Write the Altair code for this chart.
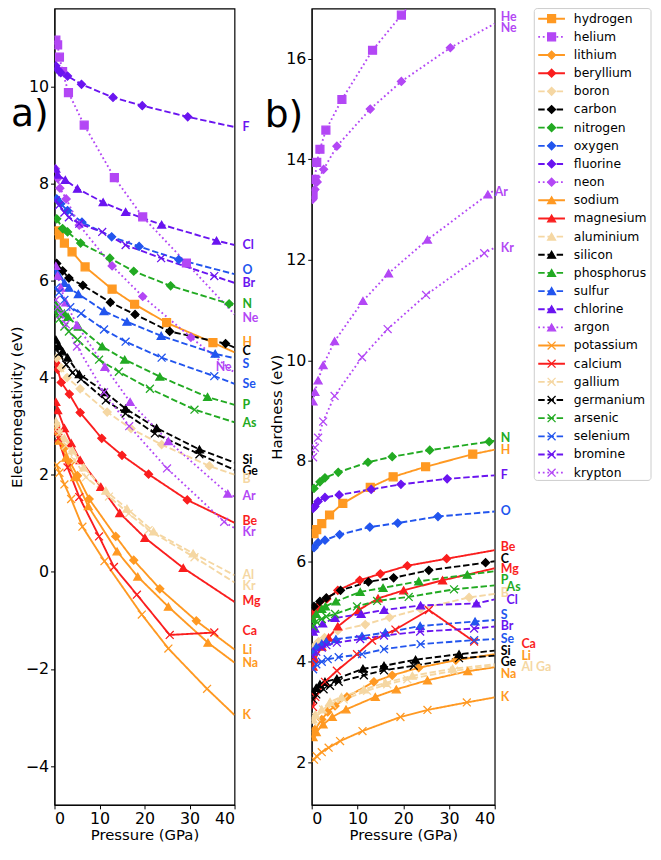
import altair as alt
import pandas as pd

# ---------------- element styles ----------------
ELEMENTS = ["hydrogen", "helium", "lithium", "beryllium", "boron", "carbon", "nitrogen",
            "oxygen", "fluorine", "neon", "sodium", "magnesium", "aluminium", "silicon",
            "phosphorus", "sulfur", "chlorine", "argon", "potassium", "calcium", "gallium",
            "germanium", "arsenic", "selenium", "bromine", "krypton"]

ORANGE = "#ff9922"
PURPLE = "#b347f5"
RED = "#fa1e1e"
WHEAT = "#f5d7a3"
BLACK = "#000000"
GREEN = "#22aa22"
BLUE = "#2255ee"
VIOLET = "#6a14f0"

COLORS = [ORANGE, PURPLE, ORANGE, RED, WHEAT, BLACK, GREEN, BLUE, VIOLET, PURPLE,
          ORANGE, RED, WHEAT, BLACK, GREEN, BLUE, VIOLET, PURPLE,
          ORANGE, RED, WHEAT, BLACK, GREEN, BLUE, VIOLET, PURPLE]
MARKERS = ["square", "square"] + ["diamond"] * 8 + ["triangle"] * 8 + ["x"] * 8
LINESTYLES = ["solid", "dotted", "solid", "solid", "dashed", "dashed", "dashed", "dashed", "dashed", "dotted",
              "solid", "solid", "dashed", "dashed", "dashed", "dashed", "dashed", "dotted",
              "solid", "solid", "dashed", "dashed", "dashed", "dashed", "dashed", "dotted"]

SHAPE_OF = {"square": "square", "diamond": "diamond", "triangle": "triangle-up",
            "x": "M-1,-1L1,1M1,-1L-1,1"}
SIZE_OF = {"square": 64, "diamond": 100, "triangle": 95, "x": 72}
DASH_OF = {"solid": [1, 0], "dashed": [6.5, 2.8], "dotted": [1.8, 2.8]}

# ---------------- data: pressure (GPa), electronegativity (eV), hardness (eV) ----------------
hydrogen_P = [0.5, 1.1, 2.2, 3.9, 6.8, 12.8, 17.8, 24.9, 35.2]
hydrogen_EN = [7.02, 6.94, 6.77, 6.59, 6.28, 5.82, 5.51, 5.13, 4.72]
hydrogen_HD = [6.55, 6.63, 6.75, 6.92, 7.15, 7.47, 7.68, 7.88, 8.13]
hydrogen_END = [4.52, 8.22]

helium_P = [0.3, 0.7, 1.1, 1.8, 3.1, 6.6, 13.3, 19.6, 29.3]
helium_EN = [10.95, 10.85, 10.6, 10.3, 9.87, 9.2, 8.12, 7.31, 6.36]
helium_HD = [13.3, 13.6, 13.94, 14.2, 14.58, 15.19, 16.17, 16.87, 17.95]
helium_END = [5.3, 18.9]

lithium_P = [0.3, 0.7, 2.2, 3.5, 5.1, 7.7, 13.6, 17.6, 23.4, 31.5]
lithium_EN = [3.0, 2.89, 2.55, 2.25, 1.98, 1.5, 0.73, 0.24, -0.35, -1.01]
lithium_HD = [2.55, 2.65, 2.85, 3.0, 3.12, 3.3, 3.6, 3.73, 3.88, 4.03]
lithium_END = [-1.6, 4.15]

beryllium_P = [0.3, 0.7, 1.5, 3.3, 5.7, 10.5, 15.0, 20.9, 29.5]
beryllium_EN = [4.3, 4.17, 3.9, 3.66, 3.28, 2.75, 2.4, 2.01, 1.48]
beryllium_HD = [4.9, 5.0, 5.1, 5.25, 5.42, 5.62, 5.75, 5.91, 6.05]
beryllium_END = [1.01, 6.22]

boron_P = [0.5, 1.5, 2.8, 5.7, 11.7, 17.0, 23.8, 34.4]
boron_EN = [4.4, 4.2, 4.0, 3.77, 3.29, 2.95, 2.62, 2.18]
boron_HD = [4.3, 4.4, 4.48, 4.62, 4.74, 4.88, 5.05, 5.28]
boron_END = [2.0, 5.35]

carbon_P = [0.5, 1.8, 3.2, 6.3, 12.4, 17.9, 25.6, 38.0]
carbon_EN = [6.35, 6.2, 6.05, 5.9, 5.55, 5.3, 4.95, 4.7]
carbon_HD = [5.1, 5.2, 5.27, 5.42, 5.59, 5.67, 5.82, 5.97]
carbon_END = [4.62, 6.0]

nitrogen_P = [0.5, 1.8, 2.9, 5.8, 12.3, 17.6, 25.8, 38.8]
nitrogen_EN = [7.27, 7.07, 7.0, 6.77, 6.46, 6.19, 5.89, 5.52]
nitrogen_HD = [7.45, 7.58, 7.66, 7.77, 7.97, 8.08, 8.21, 8.38]
nitrogen_END = [5.48, 8.4]

oxygen_P = [0.5, 1.4, 2.9, 6.1, 12.7, 18.8, 27.6]
oxygen_EN = [7.68, 7.58, 7.44, 7.2, 6.9, 6.7, 6.43]
oxygen_HD = [6.27, 6.37, 6.42, 6.53, 6.68, 6.76, 6.89]
oxygen_END = [6.13, 6.99]

fluorine_P = [0.3, 0.7, 1.4, 2.9, 6.0, 13.0, 19.5, 29.6]
fluorine_EN = [10.42, 10.34, 10.28, 10.21, 10.04, 9.77, 9.6, 9.37]
fluorine_HD = [7.05, 7.09, 7.19, 7.27, 7.32, 7.43, 7.53, 7.64]
fluorine_END = [9.16, 7.71]

neon_P = [0.2, 0.7, 1.2, 2.6, 5.5, 12.8, 19.6, 30.3]
neon_EN = [8.3, 8.1, 7.9, 7.68, 7.14, 6.3, 5.67, 4.83]
neon_HD = [13.2, 13.4, 13.55, 13.8, 14.26, 15.0, 15.55, 16.22]
neon_END = [4.1, 16.7]

sodium_P = [0.3, 1.0, 2.5, 4.5, 7.5, 13.9, 18.5, 25.3, 34.1]
sodium_EN = [2.9, 2.7, 2.35, 1.95, 1.35, 0.42, -0.1, -0.72, -1.46]
sodium_HD = [2.5, 2.6, 2.75, 2.9, 3.05, 3.3, 3.45, 3.63, 3.81]
sodium_END = [-1.87, 3.89]

magnesium_P = [0.3, 0.7, 2.2, 3.7, 5.7, 10.3, 14.5, 20.1, 28.6]
magnesium_EN = [3.5, 3.33, 2.96, 2.65, 2.3, 1.75, 1.21, 0.7, 0.08]
magnesium_HD = [3.9, 4.05, 4.3, 4.48, 4.7, 5.03, 5.26, 5.42, 5.62]
magnesium_END = [-0.62, 5.86]

aluminium_P = [0.3, 0.8, 2.2, 4.0, 6.5, 11.4, 16.1, 22.0, 30.8]
aluminium_EN = [3.1, 2.95, 2.75, 2.5, 2.15, 1.67, 1.3, 0.83, 0.38]
aluminium_HD = [2.85, 2.95, 3.05, 3.2, 3.3, 3.45, 3.58, 3.72, 3.86]
aluminium_END = [-0.07, 3.95]

silicon_P = [0.3, 1.0, 1.8, 2.9, 5.5, 11.2, 15.8, 22.7, 32.2]
silicon_EN = [4.78, 4.65, 4.54, 4.41, 4.07, 3.7, 3.36, 2.96, 2.52]
silicon_HD = [3.4, 3.48, 3.55, 3.6, 3.66, 3.86, 3.92, 4.04, 4.15]
silicon_END = [2.25, 4.22]

phosphorus_P = [0.3, 1.0, 2.2, 3.0, 5.3, 10.6, 15.6, 23.4, 34.0]
phosphorus_EN = [5.5, 5.42, 5.32, 5.25, 5.05, 4.64, 4.37, 4.02, 3.6]
phosphorus_HD = [4.85, 4.95, 5.05, 5.1, 5.2, 5.39, 5.47, 5.6, 5.73]
phosphorus_END = [3.44, 5.8]

sulfur_P = [0.3, 1.0, 2.2, 3.2, 5.3, 11.0, 16.1, 23.7, 35.7]
sulfur_EN = [6.2, 6.1, 5.95, 5.85, 5.72, 5.37, 5.15, 4.86, 4.49]
sulfur_HD = [4.2, 4.3, 4.36, 4.4, 4.45, 4.51, 4.58, 4.71, 4.8]
sulfur_END = [4.4, 4.83]

chlorine_P = [0.3, 0.7, 2.4, 5.1, 10.8, 15.8, 23.8, 36.0]
chlorine_EN = [8.3, 8.18, 8.07, 7.89, 7.61, 7.41, 7.15, 6.82]
chlorine_HD = [4.6, 4.66, 4.76, 4.87, 4.95, 5.03, 5.12, 5.16]
chlorine_END = [6.73, 5.24]

argon_P = [0.3, 0.7, 1.4, 2.5, 5.0, 11.2, 16.8, 25.3, 38.5]
argon_EN = [6.3, 6.1, 5.85, 5.55, 5.08, 4.22, 3.5, 2.69, 1.61]
argon_HD = [9.18, 9.37, 9.6, 9.9, 10.38, 11.18, 11.73, 12.4, 13.3]
argon_END = [1.55, 13.39]

potassium_P = [0.5, 1.1, 2.2, 3.7, 6.2, 11.1, 19.4, 25.3, 33.9]
potassium_EN = [2.2, 2.04, 1.8, 1.5, 0.93, 0.22, -0.88, -1.58, -2.41]
potassium_HD = [2.05, 2.12, 2.2, 2.29, 2.42, 2.62, 2.9, 3.04, 3.19]
potassium_END = [-2.95, 3.29]

calcium_P = [0.3, 0.8, 2.9, 5.5, 9.9, 13.2, 18.3, 25.6, 35.5]
calcium_EN = [2.9, 2.75, 2.15, 1.54, 0.73, 0.1, -0.47, -1.3, -1.25]
calcium_HD = [3.1, 3.3, 3.6, 3.82, 4.15, 4.42, 4.64, 5.03, 4.4]
calcium_END = None

gallium_P = [0.3, 1.0, 2.5, 4.5, 7.0, 12.1, 16.5, 20.9, 31.1]
gallium_EN = [3.0, 2.85, 2.6, 2.3, 1.95, 1.55, 1.2, 0.86, 0.3]
gallium_HD = [2.8, 2.9, 3.05, 3.15, 3.25, 3.42, 3.55, 3.65, 3.82]
gallium_END = [-0.22, 3.92]

germanium_P = [0.3, 1.0, 2.6, 4.0, 5.9, 11.4, 15.8, 22.3, 32.2]
germanium_EN = [4.65, 4.5, 4.27, 4.1, 3.97, 3.53, 3.26, 2.85, 2.42]
germanium_HD = [3.25, 3.35, 3.45, 3.52, 3.6, 3.73, 3.83, 3.92, 4.07]
germanium_END = [2.1, 4.12]

arsenic_P = [0.3, 1.0, 2.2, 3.2, 5.1, 9.9, 14.3, 21.2, 31.1]
arsenic_EN = [5.35, 5.2, 5.05, 4.95, 4.78, 4.37, 4.12, 3.77, 3.34]
arsenic_HD = [4.7, 4.8, 4.85, 4.9, 4.95, 5.1, 5.21, 5.29, 5.44]
arsenic_END = [3.08, 5.52]

selenium_P = [0.3, 1.0, 2.2, 3.5, 5.9, 11.0, 15.8, 23.8, 35.5]
selenium_EN = [5.85, 5.75, 5.6, 5.45, 5.32, 4.99, 4.74, 4.41, 4.03]
selenium_HD = [3.85, 3.95, 4.0, 4.05, 4.09, 4.15, 4.25, 4.35, 4.43]
selenium_END = [3.87, 4.45]

bromine_P = [0.3, 1.0, 2.2, 3.2, 5.5, 10.6, 15.8, 23.7, 35.5]
bromine_EN = [7.65, 7.55, 7.4, 7.3, 7.17, 7.0, 6.73, 6.46, 6.09]
bromine_HD = [4.1, 4.2, 4.28, 4.33, 4.38, 4.45, 4.52, 4.6, 4.66]
bromine_END = [5.95, 4.7]

krypton_P = [0.3, 0.7, 1.4, 2.5, 5.0, 11.0, 16.6, 25.0, 37.7]
krypton_EN = [5.6, 5.45, 5.3, 5.1, 4.64, 3.7, 3.0, 2.13, 1.03]
krypton_HD = [8.07, 8.26, 8.46, 8.78, 9.29, 10.06, 10.62, 11.3, 12.13]
krypton_END = [0.9, 12.24]

# ---------------- end-of-line labels ----------------
LEFT_LABEL_TEXT = ["F", "Cl", "O", "Br", "N", "Ne", "H", "C", "S", "Ne", "Se", "P", "As", "Si", "Ge",
                   "B", "Ar", "Be", "Kr", "Al", "Kr", "Mg", "Ca", "Li", "Na", "K"]
LEFT_LABEL_Y = [9.16, 6.73, 6.21, 5.94, 5.52, 5.22, 4.74, 4.54, 4.27, 4.22, 3.87, 3.43, 3.06, 2.31, 2.08,
                1.91, 1.57, 1.05, 0.81, -0.07, -0.3, -0.61, -1.21, -1.61, -1.88, -2.94]
LEFT_LABEL_OWNER = ["fluorine", "chlorine", "oxygen", "bromine", "nitrogen", "helium", "hydrogen", "carbon",
                    "sulfur", "neon", "selenium", "phosphorus", "arsenic", "silicon", "germanium", "boron",
                    "argon", "beryllium", "krypton", "aluminium", "gallium", "magnesium", "calcium",
                    "lithium", "sodium", "potassium"]
LEFT_LABEL_SLOT = ["out"] * 9 + ["in"] + ["out"] * 16

RIGHT_LABEL_TEXT = ["He", "Ne", "Ar", "Kr", "N", "H", "F", "O", "Be", "C", "Mg", "P", "As", "B", "Cl",
                    "S", "Br", "Se", "Ca", "Si", "Li", "Ge", "Al Ga", "Na", "K"]
RIGHT_LABEL_Y = [16.84, 16.62, 13.35, 12.24, 8.46, 8.21, 7.71, 7.0, 6.29, 6.05, 5.84, 5.62, 5.49, 5.36,
                 5.23, 4.92, 4.71, 4.45, 4.35, 4.22, 4.12, 4.0, 3.89, 3.76, 3.29]
RIGHT_LABEL_OWNER = ["helium", "neon", "argon", "krypton", "nitrogen", "hydrogen", "fluorine", "oxygen",
                     "beryllium", "carbon", "magnesium", "phosphorus", "arsenic", "boron", "chlorine",
                     "sulfur", "bromine", "selenium", "calcium", "silicon", "lithium", "germanium",
                     "aluminium", "sodium", "potassium"]
RIGHT_LABEL_SLOT = ["out", "out", "edge", "out", "out", "out", "out", "out", "out", "out", "out", "out",
                    "mid", "out", "mid", "out", "out", "out", "far", "out", "far", "out", "far", "out", "out"]

# ---------------- build tables ----------------
rows = []
for name in ELEMENTS:
    P = globals()[name + "_P"]
    EN = globals()[name + "_EN"]
    HD = globals()[name + "_HD"]
    END = globals()[name + "_END"]
    for p, e, h in zip(P, EN, HD):
        rows.append({"element": name, "P": p, "EN": e, "HD": h, "marker": True})
    if END is not None:
        rows.append({"element": name, "P": 40.0, "EN": END[0], "HD": END[1], "marker": False})
df = pd.DataFrame(rows)

left_lab = pd.DataFrame({"text": LEFT_LABEL_TEXT, "EN": LEFT_LABEL_Y, "owner": LEFT_LABEL_OWNER,
                         "slot": LEFT_LABEL_SLOT})
right_lab = pd.DataFrame({"text": RIGHT_LABEL_TEXT, "HD": RIGHT_LABEL_Y, "owner": RIGHT_LABEL_OWNER,
                          "slot": RIGHT_LABEL_SLOT})
leg_df = pd.DataFrame({"element": ELEMENTS, "row": list(range(len(ELEMENTS)))})

color_scale = alt.Scale(domain=ELEMENTS, range=COLORS)
shape_scale = alt.Scale(domain=ELEMENTS, range=[SHAPE_OF[m] for m in MARKERS])
size_scale = alt.Scale(domain=ELEMENTS, range=[SIZE_OF[m] for m in MARKERS])
dash_scale = alt.Scale(domain=ELEMENTS, range=[DASH_OF[s] for s in LINESTYLES])

W_L, W_R, H = 182, 185, 805
xscale = alt.Scale(domain=[0, 40], nice=False)
xaxis = alt.Axis(values=[0, 10, 20, 30, 40], title="Pressure (GPa)")


def series_layers(field, yscale, yaxis):
    base = alt.Chart(df).encode(
        x=alt.X("P:Q", scale=xscale, axis=xaxis),
        y=alt.Y(f"{field}:Q", scale=yscale, axis=yaxis),
    )
    lines = base.mark_line(strokeWidth=1.9, clip=True).encode(
        color=alt.Color("element:N", scale=color_scale, legend=None),
        strokeDash=alt.StrokeDash("element:N", scale=dash_scale, legend=None),
        order="P:Q",
    )
    pts = base.transform_filter("datum.marker").mark_point(
        filled=True, clip=True, strokeWidth=1.3, opacity=1
    ).encode(
        color=alt.Color("element:N", scale=color_scale, legend=None),
        stroke=alt.Stroke("element:N", scale=color_scale, legend=None),
        shape=alt.Shape("element:N", scale=shape_scale, legend=None),
        size=alt.Size("element:N", scale=size_scale, legend=None),
    )
    return lines, pts


def label_layers(lab, field, yscale, yaxis, dx_map):
    out = []
    for slot, dx in dx_map.items():
        out.append(
            alt.Chart(lab).transform_filter(alt.datum.slot == slot).mark_text(
                align="left", baseline="middle", dx=dx, font="Lato", fontWeight="bold", fontSize=12.5
            ).encode(
                x=alt.datum(40),
                y=alt.Y(f"{field}:Q", scale=yscale, axis=yaxis),
                color=alt.Color("owner:N", scale=color_scale, legend=None),
                text="text:N",
            )
        )
    return out


def letter(txt, xpx, ypx):
    return alt.Chart(pd.DataFrame({"t": [txt]})).mark_text(
        font="DejaVu Sans", fontSize=38, align="center", baseline="middle", color="black"
    ).encode(x=alt.value(xpx), y=alt.value(ypx), text="t:N")


# left panel
yscale_L = alt.Scale(domain=[-4.8, 11.6], nice=False, zero=False)
yaxis_L = alt.Axis(values=[-4, -2, 0, 2, 4, 6, 8, 10], title="Electronegativity (eV)")
lines_L, pts_L = series_layers("EN", yscale_L, yaxis_L)
labels_L = label_layers(left_lab, "EN", yscale_L, yaxis_L, {"out": 8, "in": -19})
left = alt.layer(lines_L, *labels_L, pts_L, letter("a)", -25, 108)).properties(width=W_L, height=H)

# right panel
yscale_R = alt.Scale(domain=[1.15, 17.0], nice=False, zero=False)
yaxis_R = alt.Axis(values=[2, 4, 6, 8, 10, 12, 14, 16], title="Hardness (eV)")
lines_R, pts_R = series_layers("HD", yscale_R, yaxis_R)
labels_R = label_layers(right_lab, "HD", yscale_R, yaxis_R, {"out": 6, "mid": 12, "far": 27, "edge": 0})
right_inner = alt.layer(lines_R, *labels_R, pts_R, letter("b)", -28, 109))

# legend (drawn beside the right panel)
frame = alt.Chart(pd.DataFrame({"a": [0]})).mark_rect(
    fill="white", stroke="#cccccc", strokeWidth=1, cornerRadius=3
).encode(x=alt.value(225), x2=alt.value(343), y=alt.value(0), y2=alt.value(477))
leg_base = alt.Chart(leg_df).encode(
    y=alt.Y("row:Q", scale=alt.Scale(domain=[-0.56, 43.3], reverse=True, nice=False, zero=False), axis=None)
)
leg_rule = leg_base.mark_rule(strokeWidth=1.9).encode(
    x=alt.value(229), x2=alt.value(256),
    color=alt.Color("element:N", scale=color_scale, legend=None),
    strokeDash=alt.StrokeDash("element:N", scale=dash_scale, legend=None),
)
leg_pts = leg_base.mark_point(filled=True, strokeWidth=1.3, opacity=1).encode(
    x=alt.value(242.5),
    color=alt.Color("element:N", scale=color_scale, legend=None),
    stroke=alt.Stroke("element:N", scale=color_scale, legend=None),
    shape=alt.Shape("element:N", scale=shape_scale, legend=None),
    size=alt.Size("element:N", scale=size_scale, legend=None),
)
leg_txt = leg_base.mark_text(
    align="left", baseline="middle", font="DejaVu Sans", fontSize=12.5, color="black"
).encode(x=alt.value(265), text="element:N")
legend_layers = alt.layer(frame, leg_rule, leg_pts, leg_txt)

right = alt.layer(right_inner, legend_layers).resolve_scale(y="independent").properties(width=W_R, height=H)

chart = alt.hconcat(left, right, spacing=78, bounds="flush").properties(
    padding={"left": 0, "top": -6, "right": 0, "bottom": 0}, background="white"
).configure_view(
    stroke="black", strokeWidth=1.2
).configure_axis(
    labelFont="DejaVu Sans", labelFontSize=16, labelColor="black",
    titleFont="DejaVu Sans", titleFontSize=15, titleFontWeight="normal", titleColor="black",
    tickColor="black", domainColor="black", tickSize=4, tickWidth=1, grid=False,
    labelPadding=2, titlePadding=1,
)

chart.save("out.html", embed_options={"renderer": "svg", "actions": False})
